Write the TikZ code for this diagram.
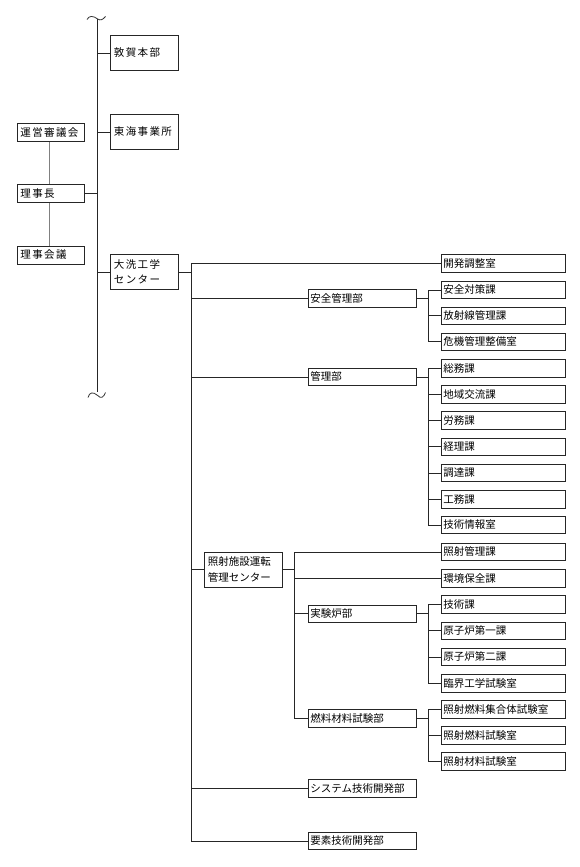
\documentclass[tikz,border=0pt]{standalone}
\usepackage{fontspec}
\newfontfamily\jpf{Noto Sans CJK JP}
\newfontfamily\jpsp[LetterSpace=13]{Noto Sans CJK JP}
\begin{document}
\begin{tikzpicture}[x=1pt,y=-1pt,
  box/.style={draw=black!85, line width=0.9pt, fill=white, anchor=north west, align=left, inner ysep=0pt, font=\jpf\fontsize{10.5}{15.5}\selectfont},
  subbox/.style={box, text width=120pt, inner xsep=2pt, minimum height=17.5pt},
  deptbox/.style={box, text width=103.7pt, inner xsep=2pt, minimum height=17.5pt},
  leftbox/.style={box, text width=61pt, inner xsep=3pt, minimum height=18pt, font=\jpsp\fontsize{10.5}{15.5}\selectfont},
  trunkbox/.style={box, text width=61pt, inner xsep=3.5pt, minimum height=35pt, font=\jpsp\fontsize{10.5}{15.5}\selectfont},
  centerbox/.style={box, text width=71.4pt, inner xsep=3pt, minimum height=35pt},
  conn/.style={draw=black!85, line width=0.8pt},
  thin/.style={draw=black!50, line width=0.6pt},
  tilde/.style={draw=black!80, line width=0.8pt}
]
\useasboundingbox[fill=white] (0,0) rectangle (580,867);

% left column
\node[leftbox] (uneishingi) at (17,123) {運営審議会};
\node[leftbox] (rijicho) at (17,184) {理事長};
\node[leftbox] (rijikaigi) at (17,245.5) {理事会議};
\draw[thin] (uneishingi.south -| 49.5,0) coordinate (l1) -- (rijicho.north -| l1);
\draw[thin] (rijicho.south -| l1) -- (rijikaigi.north -| l1);

% trunk
\coordinate (tTop) at (97.7,19);
\coordinate (tBot) at (97.7,392);
\draw[conn] (tTop) -- (tBot);
\draw[tilde] (87,19.5) .. controls (89,15.5) and (93,15.5) .. (97.7,19) .. controls (100.5,21) and (103,19.5) .. (105.5,16.5);
\draw[tilde] (88,397.5) .. controls (89.5,392) and (93,391.5) .. (97.7,395.5) .. controls (101,399) and (103.5,397.5) .. (105.5,392.5);

\node[trunkbox] (tsuruga) at (110,35) {敦賀本部};
\node[trunkbox] (tokai) at (110,114) {東海事業所};
\node[trunkbox] (oarai) at (110,254) {大洗工学\\センター};
\draw[conn] (tsuruga.west) -- (tsuruga.west -| tTop);
\draw[conn] (tokai.west) -- (tokai.west -| tTop);
\draw[conn] (oarai.west) -- (oarai.west -| tTop);
\draw[conn] (rijicho.east) -- (rijicho.east -| tTop);

% Oarai bus
\coordinate (bus1) at (191.7,0);
\node[subbox] (kaihatsu) at (441,254) {開発調整室};
\node[deptbox] (anzen) at (308,289) {安全管理部};
\node[deptbox] (kanri) at (308,367.7) {管理部};
\node[centerbox] (shosha) at (204.3,551.8) {照射施設運転\\管理センター};
\node[deptbox] (system) at (308,779) {システム技術開発部};
\node[deptbox] (yoso) at (308,831.7) {要素技術開発部};
\draw[conn] (oarai.east) -- (oarai.east -| bus1);
\draw[conn] (kaihatsu.west) -| (bus1 |- yoso.west) -- (yoso.west);
\draw[conn] (anzen.west) -- (anzen.west -| bus1);
\draw[conn] (kanri.west) -- (kanri.west -| bus1);
\draw[conn] (shosha.west) -- (shosha.west -| bus1);
\draw[conn] (system.west) -- (system.west -| bus1);

% Anzen group
\coordinate (bus2) at (428.3,0);
\node[subbox] (taisaku) at (441,280.7) {安全対策課};
\node[subbox] (hoshasen) at (441,306.5) {放射線管理課};
\node[subbox] (kiki) at (441,332.5) {危機管理整備室};
\draw[conn] (anzen.east) -- (anzen.east -| bus2);
\draw[conn] (taisaku.west) -| (bus2 |- kiki.west) -- (kiki.west);
\draw[conn] (hoshasen.west) -- (hoshasen.west -| bus2);

% Kanri group
\node[subbox] (somu) at (441,359.2) {総務課};
\node[subbox] (chiiki) at (441,385.2) {地域交流課};
\node[subbox] (romu) at (441,411.2) {労務課};
\node[subbox] (keiri) at (441,437.5) {経理課};
\node[subbox] (chotatsu) at (441,463.7) {調達課};
\node[subbox] (komu) at (441,490) {工務課};
\node[subbox] (gijutsujoho) at (441,515.8) {技術情報室};
\draw[conn] (kanri.east) -- (kanri.east -| bus2);
\draw[conn] (somu.west) -| (bus2 |- gijutsujoho.west) -- (gijutsujoho.west);
\foreach \n in {chiiki,romu,keiri,chotatsu,komu}
  \draw[conn] (\n.west) -- (\n.west -| bus2);

% Shosha group
\coordinate (bus3) at (294.3,0);
\node[subbox] (shoshakanri) at (441,542.7) {照射管理課};
\node[subbox] (kankyo) at (441,569) {環境保全課};
\node[deptbox] (jikken) at (308,604.5) {実験炉部};
\node[deptbox] (nenryo) at (308,709) {燃料材料試験部};
\draw[conn] (shosha.east) -- (shosha.east -| bus3);
\draw[conn] (shoshakanri.west) -| (bus3 |- nenryo.west) -- (nenryo.west);
\draw[conn] (kankyo.west) -- (kankyo.west -| bus3);
\draw[conn] (jikken.west) -- (jikken.west -| bus3);

% Jikken group
\node[subbox] (gijutsu) at (441,595.3) {技術課};
\node[subbox] (genshiro1) at (441,621.5) {原子炉第一課};
\node[subbox] (genshiro2) at (441,647.7) {原子炉第二課};
\node[subbox] (rinkai) at (441,674) {臨界工学試験室};
\draw[conn] (jikken.east) -- (jikken.east -| bus2);
\draw[conn] (gijutsu.west) -| (bus2 |- rinkai.west) -- (rinkai.west);
\draw[conn] (genshiro1.west) -- (genshiro1.west -| bus2);
\draw[conn] (genshiro2.west) -- (genshiro2.west -| bus2);

% Nenryo group
\node[subbox] (shugotai) at (441,700.3) {照射燃料集合体試験室};
\node[subbox] (nenryoshiken) at (441,726.2) {照射燃料試験室};
\node[subbox] (zairyo) at (441,752.3) {照射材料試験室};
\draw[conn] (nenryo.east) -- (nenryo.east -| bus2);
\draw[conn] (shugotai.west) -| (bus2 |- zairyo.west) -- (zairyo.west);
\draw[conn] (nenryoshiken.west) -- (nenryoshiken.west -| bus2);
\end{tikzpicture}
\end{document}
